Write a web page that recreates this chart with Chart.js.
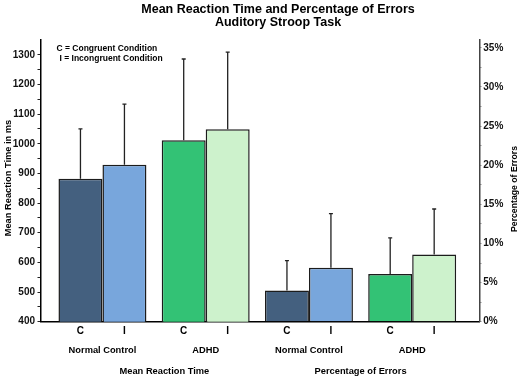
<!DOCTYPE html>
<html>
<head>
<meta charset="utf-8">
<script src="https://cdn.jsdelivr.net/npm/chart.js@4/dist/chart.umd.min.js"></script>
<style>
  html, body { margin: 0; padding: 0; background: #fff; }
  #wrap { width: 520px; height: 377px; position: relative; }
</style>
</head>
<body>
<div id="wrap"><canvas id="c" width="520" height="377"></canvas></div>
<script>
// ---- data ----
const chartTitle = ['Mean Reaction Time and Percentage of Errors', 'Auditory Stroop Task'];
const legendNotes = ['C = Congruent Condition', 'I = Incongruent Condition'];
const groupLabels = ['Normal Control', 'ADHD', 'Normal Control', 'ADHD'];
const conditionLabels = ['C', 'I'];
const sectionLabels = ['Mean Reaction Time', 'Percentage of Errors'];
const axisTitles = ['Mean Reaction Time in ms', 'Percentage of Errors'];

// Mean reaction time (ms): [Normal Control, ADHD]
const rtCongruent = [882, 1012];
const rtIncongruent = [929, 1049];
const rtCongruentSD = [168, 274];
const rtIncongruentSD = [205, 260];

// Percentage of errors (%): [Normal Control, ADHD]
const errCongruent = [4.0, 6.1];
const errIncongruent = [6.9, 8.6];
const errCongruentSD = [3.8, 4.6];
const errIncongruentSD = [6.9, 5.8];

const rtTickValues = [400, 500, 600, 700, 800, 900, 1000, 1100, 1200, 1300];
const errTickValues = [0, 5, 10, 15, 20, 25, 30, 35];

// ---- styles ----
const colCNormal = '#44607f';
const colINormal = '#78a6dc';
const colCADHD = '#33c275';
const colIADHD = '#cdf2cc';
const FONT = '"Liberation Sans", Arial, sans-serif';

function pts(values, offset) {
  return values.map((v, i) => ({ x: i + offset, y: v }));
}

const datasets = [
  { label: 'C RT', stack: 'C', yAxisID: 'yRT', data: pts(rtCongruent, 0), sd: rtCongruentSD,
    backgroundColor: [colCNormal, colCADHD] },
  { label: 'I RT', stack: 'I', yAxisID: 'yRT', data: pts(rtIncongruent, 0), sd: rtIncongruentSD,
    backgroundColor: [colINormal, colIADHD] },
  { label: 'C Err', stack: 'C', yAxisID: 'yErr', data: pts(errCongruent, 2), sd: errCongruentSD,
    backgroundColor: [colCNormal, colCADHD] },
  { label: 'I Err', stack: 'I', yAxisID: 'yErr', data: pts(errIncongruent, 2), sd: errIncongruentSD,
    backgroundColor: [colINormal, colIADHD] }
];
datasets.forEach(d => {
  d.borderColor = '#1c1c1c';
  d.borderWidth = 1.5;
  d.barPercentage = 1.0;
  d.categoryPercentage = 0.852;
  d.skipNull = true;
});

function minorTicks(values, half) {
  const out = [];
  values.forEach((v, i) => {
    out.push({ value: v });
    if (i < values.length - 1) out.push({ value: v + half });
  });
  return out;
}

const errorBars = {
  id: 'errorBars',
  afterDatasetsDraw(chart) {
    const ctx = chart.ctx;
    ctx.save();
    ctx.strokeStyle = '#222';
    ctx.lineWidth = 1.3;
    chart.data.datasets.forEach((ds, i) => {
      const meta = chart.getDatasetMeta(i);
      const ys = chart.scales[ds.yAxisID];
      meta.data.forEach((el, j) => {
        const top = ys.getPixelForValue(ds.data[j].y + ds.sd[j]);
        ctx.beginPath();
        ctx.moveTo(el.x, el.y);
        ctx.lineTo(el.x, top);
        ctx.moveTo(el.x - 2, top);
        ctx.lineTo(el.x + 2, top);
        ctx.stroke();
      });
    });
    ctx.restore();
  }
};

const texts = {
  id: 'texts',
  afterDraw(chart) {
    const ctx = chart.ctx;
    const xs = chart.scales.x;
    const area = chart.chartArea;
    ctx.save();
    ctx.fillStyle = '#000';
    ctx.textBaseline = 'middle';

    // title
    ctx.textAlign = 'center';
    ctx.font = 'bold 12.5px ' + FONT;
    ctx.fillText(chartTitle[0], 278, 10);
    ctx.fillText(chartTitle[1], 278, 23);

    // legend notes
    ctx.textAlign = 'left';
    ctx.font = 'bold 8.5px ' + FONT;
    ctx.fillText(legendNotes[0], 56.5, 48.5);
    ctx.fillText(legendNotes[1], 59.5, 58.5);

    // C / I labels under each bar
    ctx.textAlign = 'center';
    ctx.font = 'bold 10px ' + FONT;
    chart.data.datasets.forEach((ds, i) => {
      const meta = chart.getDatasetMeta(i);
      meta.data.forEach(el => {
        ctx.fillText(conditionLabels[ds.stack === 'C' ? 0 : 1], el.x, area.bottom + 10);
      });
    });

    // group labels
    ctx.font = 'bold 9.3px ' + FONT;
    groupLabels.forEach((g, i) => {
      ctx.fillText(g, xs.getPixelForValue(i), area.bottom + 29);
    });

    // section labels
    ctx.fillText(sectionLabels[0], xs.getPixelForValue(0.6), area.bottom + 50);
    ctx.fillText(sectionLabels[1], xs.getPixelForValue(2.5), area.bottom + 50);

    // axis titles
    ctx.save();
    ctx.translate(8, 178);
    ctx.rotate(-Math.PI / 2);
    ctx.font = 'bold 9.3px ' + FONT;
    ctx.fillText(axisTitles[0], 0, 0);
    ctx.restore();

    ctx.save();
    ctx.translate(515, 189);
    ctx.rotate(-Math.PI / 2);
    ctx.font = 'bold 8.7px ' + FONT;
    ctx.fillText(axisTitles[1], 0, 0);
    ctx.restore();

    ctx.restore();
  }
};

new Chart(document.getElementById('c'), {
  type: 'bar',
  data: { datasets },
  plugins: [errorBars, texts],
  options: {
    responsive: false,
    animation: false,
    events: [],
    layout: { padding: { top: 40, left: 0, right: 0, bottom: 0 } },
    plugins: { legend: { display: false }, title: { display: false }, tooltip: { enabled: false } },
    scales: {
      x: {
        type: 'linear',
        position: 'bottom',
        offset: false,
        min: -0.6,
        max: 3.65,
        afterBuildTicks: s => { s.ticks = [0, 1, 2, 3].map(v => ({ value: v })); },
        afterFit: s => { s.height = 55.3; },
        ticks: { display: false },
        grid: { display: false, offset: false },
        border: { display: true, color: '#000', width: 1.5 }
      },
      yRT: {
        type: 'linear',
        position: 'left',
        stacked: false,
        min: 400,
        max: 1350,
        afterBuildTicks: s => { s.ticks = minorTicks(rtTickValues, 50); },
        afterFit: s => { s.width = 40.5; },
        ticks: {
          autoSkip: false,
          padding: 2.5,
          color: '#111',
          font: { family: FONT, size: 10, weight: 'bold' },
          callback: v => (rtTickValues.includes(v) ? String(v) : '')
        },
        grid: { drawOnChartArea: false, drawTicks: true, tickLength: 3, color: '#222' },
        border: { display: true, color: '#000', width: 1.5 }
      },
      yErr: {
        type: 'linear',
        position: 'right',
        stacked: false,
        min: 0,
        max: 36,
        afterBuildTicks: s => { s.ticks = minorTicks(errTickValues, 2.5); },
        afterFit: s => { s.width = 40.7; },
        ticks: {
          autoSkip: false,
          padding: 2,
          color: '#111',
          font: { family: FONT, size: 10, weight: 'bold' },
          callback: v => (errTickValues.includes(v) ? v + '%' : '')
        },
        grid: { drawOnChartArea: false, drawTicks: true, tickLength: 2, color: '#444' },
        border: { display: true, color: '#444', width: 1.5 }
      }
    }
  }
});
</script>
</body>
</html>
